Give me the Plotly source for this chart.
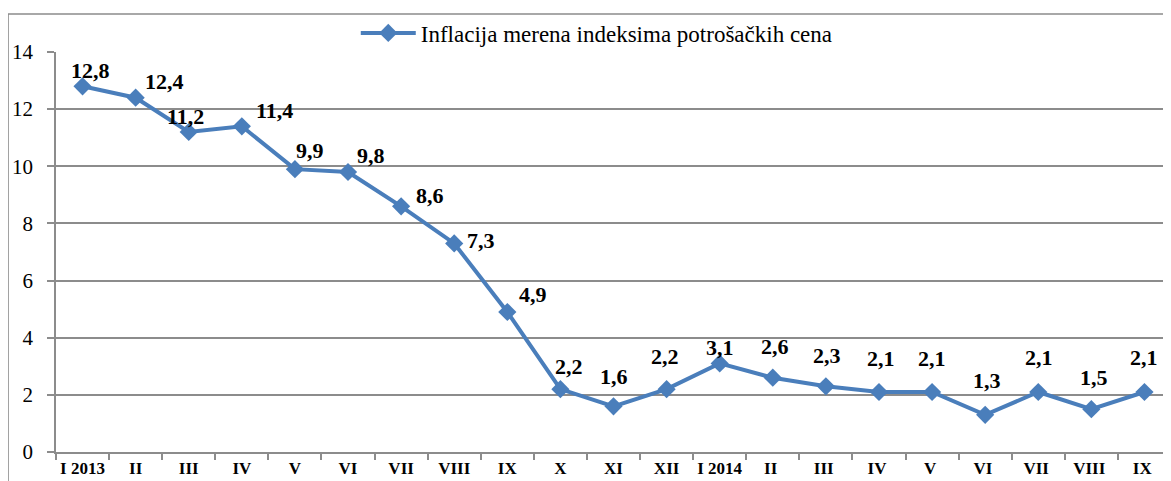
import plotly.graph_objects as go

categories = ["I 2013", "II", "III", "IV", "V", "VI", "VII", "VIII", "IX", "X", "XI", "XII",
              "I 2014", "II ", "III ", "IV ", "V ", "VI ", "VII ", "VIII ", "IX "]
values = [12.8, 12.4, 11.2, 11.4, 9.9, 9.8, 8.6, 7.3, 4.9, 2.2, 1.6, 2.2,
          3.1, 2.6, 2.3, 2.1, 2.1, 1.3, 2.1, 1.5, 2.1]
series_name = "Inflacija merena indeksima potrošačkih cena"

# label offsets (pixels) - styling only
label_dx = [8, 29, -3, 33, 15, 23, 29, 27, 26, 9, 0, -2, 0, 2, 1, 2, 0, 2, 1, 3, 0]
label_dy = [16, 16, 16, 16, 19, 17, 11, 3, 18, 23, 30, 33, 16, 31, 31, 34, 34, 34, 35, 32, 35]

blue = "#4A7EBB"
grid = "#8C8C8C"
serif = "Liberation Serif, Times New Roman, serif"

fig = go.Figure()
fig.add_trace(go.Scatter(
    x=categories, y=values, mode="lines+markers", name=series_name,
    line=dict(color=blue, width=4),
    marker=dict(symbol="diamond", size=14, color=blue),
))

for c, v, dx, dy in zip(categories, values, label_dx, label_dy):
    fig.add_annotation(
        x=c, y=v, text=f"<b>{v:.1f}</b>".replace(".", ","), showarrow=False,
        xshift=dx, yshift=dy,
        font=dict(family=serif, size=22, color="black"),
    )

fig.add_shape(type="rect", xref="paper", yref="paper",
              x0=-0.043, x1=1.2, y0=-0.3, y1=1.095,
              line=dict(color=grid, width=1.5), layer="below")

fig.update_layout(
    width=1163, height=473,
    margin=dict(l=48, r=0, t=44, b=29),
    paper_bgcolor="white", plot_bgcolor="white",
    font=dict(family=serif, color="black"),
    showlegend=True,
    legend=dict(orientation="h", x=0.485, xanchor="center", y=1.0475, yanchor="middle",
                font=dict(family=serif, size=23, color="black"),
                itemwidth=55,
                bgcolor="rgba(0,0,0,0)"),
    xaxis=dict(
        type="category", showgrid=False, showline=True, linecolor=grid, linewidth=1.5,
        ticks="outside", tickson="boundaries", ticklen=6, tickcolor=grid, tickwidth=1.5,
        tickangle=0, automargin=False,
        tickfont=dict(family=serif, size=17, color="black", weight="bold"),
        range=[-0.5, 20.5], fixedrange=True,
    ),
    yaxis=dict(
        range=[0, 14], dtick=2, showgrid=True, gridcolor=grid, gridwidth=1.5,
        showline=True, linecolor=grid, linewidth=1.5, zeroline=False,
        ticks="outside", ticklen=7, tickcolor=grid, tickwidth=1.5,
        ticklabelstandoff=10, automargin=False,
        tickfont=dict(family=serif, size=21, color="black"),
    ),
)

fig.write_html("out.html")
